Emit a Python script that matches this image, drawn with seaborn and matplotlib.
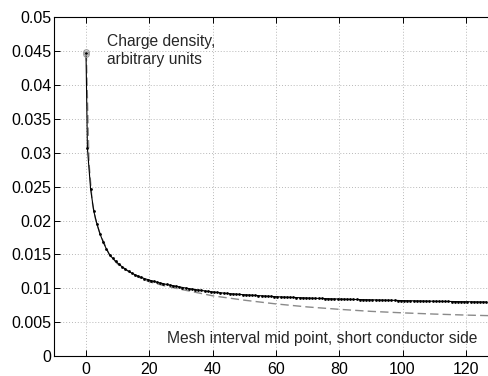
import numpy as np
import pandas as pd
import matplotlib
matplotlib.use("Agg")
import matplotlib.pyplot as plt
import seaborn as sns

# Fine mesh: charge density at each interval mid point (short conductor side)
fine_x = [0.05] + [k + 0.5 for k in range(127)]
fine_y = [
    0.0448,
    0.0307, 0.0247, 0.0214, 0.0195, 0.0180, 0.0168, 0.0158, 0.01495, 0.01443, 0.01396,
    0.01354, 0.01316, 0.01282, 0.01252, 0.01225, 0.01201, 0.01180, 0.01161, 0.01144, 0.01129,
    0.01115, 0.01102, 0.01090, 0.01079, 0.01068, 0.01057, 0.01048, 0.01038, 0.01029, 0.01021,
    0.01012, 0.01004, 0.00996, 0.00989, 0.00982, 0.00975, 0.00968, 0.00962, 0.00956, 0.00950,
    0.00944, 0.00939, 0.00934, 0.00929, 0.00925, 0.00921, 0.00917, 0.00913, 0.00910, 0.00907,
    0.00904, 0.00901, 0.00898, 0.00895, 0.00892, 0.00889, 0.00886, 0.00883, 0.00880, 0.00878,
    0.00875, 0.00873, 0.00871, 0.00869, 0.00867, 0.00865, 0.00863, 0.00861, 0.00859, 0.00857,
    0.00856, 0.00854, 0.00853, 0.00851, 0.00850, 0.00848, 0.00847, 0.00845, 0.00844, 0.00842,
    0.00841, 0.00840, 0.00839, 0.00837, 0.00836, 0.00835, 0.00834, 0.00833, 0.00831, 0.00830,
    0.00829, 0.00828, 0.00827, 0.00826, 0.00825, 0.00824, 0.00823, 0.00822, 0.00820, 0.00819,
    0.00818, 0.00817, 0.00816, 0.00815, 0.00814, 0.00814, 0.00813, 0.00812, 0.00811, 0.00810,
    0.00809, 0.00808, 0.00808, 0.00807, 0.00806, 0.00805, 0.00805, 0.00804, 0.00803, 0.00803,
    0.00802, 0.00801, 0.00801, 0.00800, 0.00799, 0.00799, 0.00798,
]

# Reference solution (dashed)
ref_x = [0.15, 1.0, 2.0, 3.0, 4.5, 7.5, 10, 15, 20, 25, 30, 40, 50, 60, 70, 80,
         90, 100, 110, 120, 127]
ref_y = [0.0448, 0.0285, 0.0228, 0.0203, 0.0180, 0.0149, 0.0136, 0.0120, 0.01097,
         0.01035, 0.00985, 0.0089, 0.00825, 0.0077, 0.00725, 0.0069, 0.0066,
         0.00638, 0.0062, 0.00605, 0.00597]

# End-point markers at the conductor edge
edge_x = [0.15, 0.2]
edge_y = [0.0449, 0.0446]

x_ticks = [0, 20, 40, 60, 80, 100, 120]
y_ticks = [0, 0.005, 0.01, 0.015, 0.02, 0.025, 0.03, 0.035, 0.04, 0.045, 0.05]
y_tick_labels = ["0", "0.005", "0.01", "0.015", "0.02", "0.025", "0.03",
                 "0.035", "0.04", "0.045", "0.05"]

sns.set_theme(style="white")
plt.rcParams["font.family"] = ["Liberation Sans", "DejaVu Sans"]

fig = plt.figure(figsize=(4.88, 3.76), dpi=100)
ax = fig.add_axes([0.111, 0.053, 0.889, 0.901])

fine = pd.DataFrame({"x": fine_x, "y": fine_y})
ref = pd.DataFrame({"x": ref_x, "y": ref_y})

sns.lineplot(data=ref, x="x", y="y", ax=ax, sort=False, estimator=None,
             color="#8a8a8a", linewidth=1.0, linestyle=(0, (6, 3)))
sns.lineplot(data=fine, x="x", y="y", ax=ax, sort=False, estimator=None,
             color="black", linewidth=0.8, marker="o", markersize=2.0,
             markeredgewidth=0)
ax.plot(edge_x, edge_y, linestyle="none", marker="o", markersize=4,
        markerfacecolor="none", markeredgecolor="#999999", markeredgewidth=0.8)

ax.set_xlim(-10, 127)
ax.set_ylim(0, 0.05)
ax.set_xticks(x_ticks)
ax.set_yticks(y_ticks)
ax.set_yticklabels(y_tick_labels)
ax.set_xlabel("")
ax.set_ylabel("")

ax.grid(True, color="#b8b8b8", linestyle=(0, (1, 2)), linewidth=0.7)
ax.tick_params(axis="both", direction="in", length=4, width=0.7, colors="black",
               labelsize=11.5, top=True, bottom=True, left=True)
ax.tick_params(axis="x", pad=4)
ax.tick_params(axis="y", pad=2)
for side in ["left", "top", "bottom"]:
    ax.spines[side].set_color("black")
    ax.spines[side].set_linewidth(0.8)
ax.spines["right"].set_visible(False)

ax.text(6.8, 0.0464, "Charge density,", fontsize=11.25, va="center", ha="left")
ax.text(6.8, 0.0437, "arbitrary units", fontsize=11.25, va="center", ha="left")
ax.text(123.5, 0.00266, "Mesh interval mid point, short conductor side",
        fontsize=11.25, va="center", ha="right")

fig.savefig("out.png", dpi=100)
